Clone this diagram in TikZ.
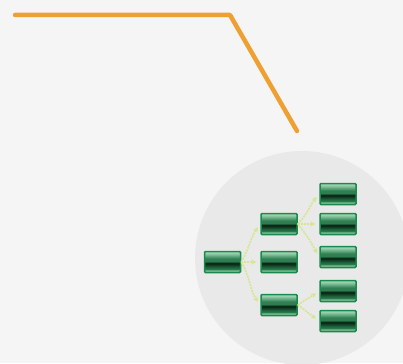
\documentclass[tikz,border=0pt]{standalone}
\usetikzlibrary{arrows.meta}

\definecolor{bgcol}{HTML}{F5F5F5}
\definecolor{disc}{HTML}{E9E9E9}
\definecolor{orangeline}{HTML}{EFA033}
\definecolor{boxrim}{HTML}{188A4C}
\definecolor{linkcol}{HTML}{D5E590}
\definecolor{gtop}{HTML}{B4DCC0}
\definecolor{gup}{HTML}{7FBF98}
\definecolor{gmid}{HTML}{2F7F52}
\definecolor{gdark}{HTML}{061F10}
\definecolor{glow}{HTML}{1C6039}
\definecolor{gbase}{HTML}{2A8050}
\definecolor{gline}{HTML}{A9D9BA}

\pgfdeclareverticalshading{glassgreen}{100bp}{color(0bp)=(boxrim); color(25bp)=(boxrim);
  color(27bp)=(gbase); color(29.5bp)=(gline); color(32bp)=(gbase); color(38bp)=(glow);
  color(47bp)=(gdark); color(52bp)=(gmid); color(58bp)=(gmid); color(68bp)=(gup);
  color(75bp)=(gtop); color(100bp)=(gtop)}

\tikzset{
  glassbox/.style={draw=boxrim,line width=1.5pt,rounded corners=1pt,shading=glassgreen,
    minimum width=36pt,minimum height=21pt,inner sep=0pt},
  link/.style={draw=linkcol,line width=1.6pt,dash pattern=on 2pt off 1pt,
    -{Stealth[length=5pt,width=5pt]},shorten >=4pt}
}

\begin{document}
\begin{tikzpicture}[x=1pt,y=-1pt]

      \fill[bgcol] (0,0) rectangle (403,363);
      \useasboundingbox (0,0) rectangle (403,363);

      \begin{scope}
        \clip (0,0) rectangle (403,363);
        \fill[disc] (302,258) circle (107);
      \end{scope}

      \coordinate (o1) at (15,15);
      \coordinate (o2) at (230,15);
      \coordinate (o3) at (297,131);
      \draw[orangeline,line width=4.5pt,line cap=round,line join=round] (o1) -- (o2) -- (o3);

      \begin{scope}[every node/.style={glassbox}]
        \node (1) at (222.5,262) {};
        \node (2) at (279,224) {};
        \node (3) at (279,262) {};
        \node (4) at (279,305) {};
        \node (5) at (338,194) {};
        \node (6) at (338,224) {};
        \node (7) at (338,257) {};
        \node (8) at (338,291) {};
        \node (9) at (338,321) {};
      \end{scope}

      \begin{scope}[every edge/.style={link}]
        \path (1.east) edge[out=60,in=235] (2.west);
        \path (1.east) edge (3.west);
        \path (1.east) edge[out=-60,in=125] (4.west);
        \path (2.east) edge[out=45,in=230] (5.west);
        \path (2.east) edge (6.west);
        \path (2.east) edge[out=-50,in=120] (7.west);
        \path (4.east) edge[out=35,in=215] (8.west);
        \path (4.east) edge[out=-35,in=145] (9.west);
      \end{scope}

    \end{tikzpicture}
\end{document}
